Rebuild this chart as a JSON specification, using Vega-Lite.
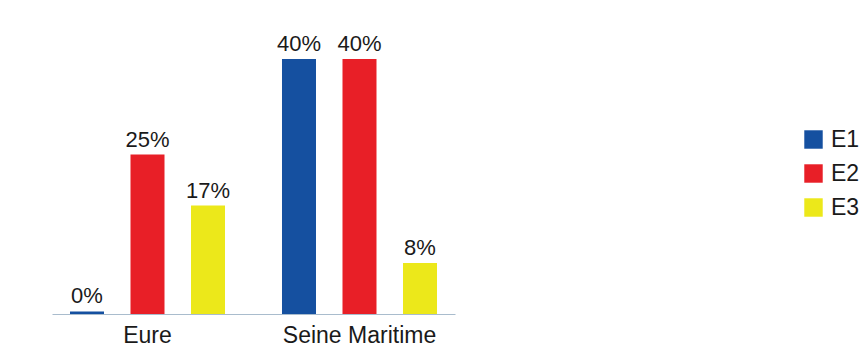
{
  "$schema": "https://vega.github.io/schema/vega-lite/v6.json",
  "width": 403,
  "height": 314,
  "autosize": "none",
  "padding": {"left": 52, "top": 0, "right": 407, "bottom": 33},
  "background": "white",
  "config": {"view": {"stroke": null}, "font": "Liberation Sans"},
  "data": {"values": [
    {"dept": "Eure", "serie": "E1", "pct": 0.4, "label": "0%"},
    {"dept": "Eure", "serie": "E2", "pct": 25, "label": "25%"},
    {"dept": "Eure", "serie": "E3", "pct": 17, "label": "17%"},
    {"dept": "Seine Maritime", "serie": "E1", "pct": 40, "label": "40%"},
    {"dept": "Seine Maritime", "serie": "E2", "pct": 40, "label": "40%"},
    {"dept": "Seine Maritime", "serie": "E3", "pct": 8, "label": "8%"}
  ]},
  "encoding": {
    "x": {"field": "dept", "type": "nominal", "sort": null,
      "scale": {"paddingInner": 0.099, "paddingOuter": 0},
      "axis": {"title": null, "labelAngle": 0, "ticks": false, "labelPadding": 10,
        "labelFontSize": 23, "labelColor": "#1a1a1a", "labelFont": "Liberation Sans",
        "domainColor": "#a9bccd", "domainWidth": 1.2, "grid": false}},
    "xOffset": {"field": "serie", "type": "nominal",
      "scale": {"paddingInner": 0.438, "paddingOuter": 0.2975}},
    "y": {"field": "pct", "type": "quantitative",
      "scale": {"domain": [0, 49.25], "nice": false, "zero": true},
      "axis": null}
  },
  "layer": [
    {"mark": {"type": "bar"},
      "encoding": {
        "color": {"field": "serie", "type": "nominal",
          "scale": {"domain": ["E1", "E2", "E3"], "range": ["#1550a0", "#e81f27", "#ece81a"]},
          "legend": {"title": null, "orient": "none", "legendX": 750, "legendY": 128,
            "symbolType": "square", "symbolSize": 340, "symbolStrokeWidth": 0,
            "labelFontSize": 23, "labelColor": "#1a1a1a", "labelFont": "Liberation Sans",
            "labelOffset": 6, "rowPadding": 10, "padding": 0}}
      }},
    {"mark": {"type": "text", "baseline": "alphabetic", "dy": -8, "fontSize": 22,
        "color": "#1a1a1a", "font": "Liberation Sans"},
      "encoding": {"text": {"field": "label", "type": "nominal"}}}
  ]
}
